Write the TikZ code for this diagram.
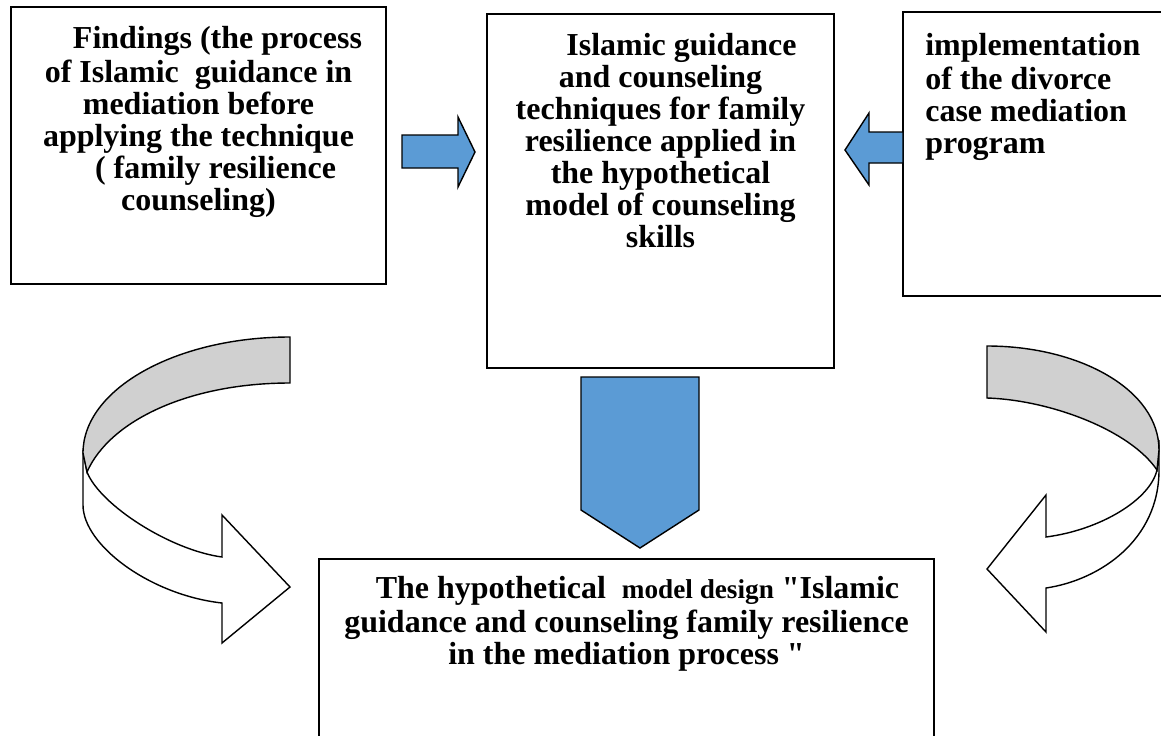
\documentclass[tikz,border=0pt]{standalone}
\usepackage{fontspec}
\setmainfont{Liberation Serif}[Ligatures=TeXOff]
\usetikzlibrary{positioning}
\definecolor{blockblue}{RGB}{91,155,213}
\definecolor{foldgray}{RGB}{208,208,208}
\tikzset{font=\fontsize{18.2}{18.2}\selectfont\bfseries}
\tikzstyle{frame}=[draw,rectangle,line width=0.8pt,inner sep=0pt]
\tikzstyle{txt}=[inner sep=0pt,align=center,anchor=north]
\tikzstyle{blk}=[draw,line width=0.8pt,line join=miter]

\begin{document}
\begin{tikzpicture}[x=0.02cm,y=-0.02cm]
\useasboundingbox (0,0) rectangle (1161,735);
\clip (0,0) rectangle (1161,735);
\node[frame,minimum width=7.5cm,minimum height=5.54cm] (F) at (198.5,145.5) {};
\node[frame,minimum width=6.94cm,minimum height=7.08cm] (T) at (660.5,191) {};
\node[frame,minimum width=5.44cm,minimum height=5.68cm] (P) at (1039,154) {};
\node[frame,minimum width=12.3cm,minimum height=4.02cm] (M) at (626.5,659.5) {};
\node[txt] (Ft) at (198.5,25.5) {\strut\hspace*{0.76cm}Findings (the process\\of Islamic\ \ guidance in\\mediation before\\applying the technique\\\hspace*{0.68cm}( family resilience\\counseling)};
\node[txt] (Tt) at (660.5,32.5) {\strut\hspace*{0.84cm}Islamic guidance\\and counseling\\techniques for family\\resilience applied in\\the hypothetical\\model of counseling\\skills};
\node[txt,align=left,anchor=north west] (Pt) at (925,32.5) {\strut implementation\\of the divorce\\case mediation\\program};
\node[txt] (Mt) at (626.5,575.5) {\strut\hspace*{0.44cm}The hypothetical\ \ {\fontsize{15.5}{18.2}\selectfont model design} "Islamic\\guidance and counseling family resilience\\in the mediation process "};
\draw[blk,fill=blockblue] (402,135) -- (458,135) -- (458,117) -- (475,152) -- (458,187) -- (458,168) -- (402,168) -- cycle;
\draw[blk,fill=blockblue] (903,132) -- (869,132) -- (869,113) -- (845,150) -- (869,185) -- (869,163) -- (903,163) -- cycle;
\draw[blk,fill=blockblue] (581,377) -- (699,377) -- (699,510) -- (640,548) -- (581,510) -- cycle;
\draw[blk,fill=white] (83,450) -- (83,505) .. controls (83,545) and (150,595) .. (222,603) -- (222,643) -- (290,587) -- (222,515) -- (222,557) .. controls (170,550) and (100,505) .. (87,472) -- cycle;
\draw[blk,fill=foldgray] (290,337) .. controls (176,337) and (83,389) .. (83,453) -- (87,472) .. controls (110,420) and (190,383) .. (290,383) -- cycle;
\draw[blk,fill=white] (1159,440) -- (1159,470) .. controls (1159,540) and (1100,580) .. (1046,588) -- (1046,632) -- (987,569) -- (1046,495) -- (1046,537) .. controls (1100,530) and (1150,500) .. (1157,470) -- cycle;
\draw[blk,fill=foldgray] (987,346) .. controls (1080,346) and (1159,390) .. (1159,450) -- (1157,470) .. controls (1130,430) and (1050,400) .. (987,398) -- cycle;
\end{tikzpicture}
\end{document}
